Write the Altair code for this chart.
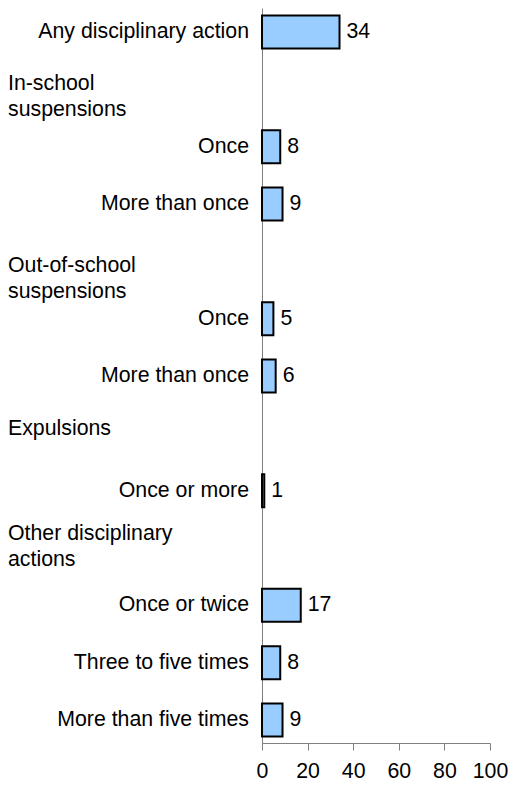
import altair as alt
import pandas as pd

labels = [
    "Any disciplinary action",
    "In-school\nsuspensions",
    "Once",
    "More than once",
    "Out-of-school\nsuspensions",
    "Once",
    "More than once",
    "Expulsions",
    "Once or more",
    "Other disciplinary\nactions",
    "Once or twice",
    "Three to five times",
    "More than five times",
]
values = [34, None, 8, 9, None, 5, 6, None, 1, None, 17, 8, 9]
is_header = [False, True, False, False, True, False, False, True, False, True, False, False, False]
tick_values = [0, 20, 40, 60, 80, 100]

rows = [f"r{i:02d}" for i in range(len(labels))]
df = pd.DataFrame({"row": rows, "label": labels, "value": values, "header": is_header})

FONT = "Liberation Sans"
FS = 21.3
LEFT = 254

y = alt.Y(
    "row:N",
    scale=alt.Scale(domain=rows, paddingInner=0.424, paddingOuter=0.122, align=0.536),
    axis=alt.Axis(labels=False, ticks=False, title=None, grid=False,
                  domainColor="#808080", domainWidth=1),
)
x = alt.X(
    "value:Q",
    scale=alt.Scale(domain=[0, 100]),
    axis=alt.Axis(values=tick_values, grid=False, title=None, labelFontSize=FS,
                  labelFont=FONT, labelColor="black", domainColor="#808080",
                  tickColor="#808080", tickSize=7, labelPadding=10,
                  labelOverlap=False, labelFlush=False),
)

base = alt.Chart(df)
items = base.transform_filter("!datum.header")

bars = items.mark_bar(color="#99CCFF", stroke="black", strokeWidth=2).encode(x=x, y=y)

vals = items.mark_text(align="left", baseline="middle", dx=7, font=FONT, fontSize=FS,
                       color="black").encode(x="value:Q", y=y, text="value:Q")

item_labels = items.mark_text(align="right", baseline="middle", font=FONT, fontSize=FS,
                              color="black").encode(x=alt.value(-13), y=y, text="label:N")

header_layers = []
header_dy = {1: -5, 4: 5, 7: -4, 9: -14}
for idx, dy in header_dy.items():
    header_layers.append(
        base.transform_filter(f"datum.row == '{rows[idx]}'")
        .mark_text(align="left", baseline="middle", font=FONT, fontSize=FS, color="black",
                   lineBreak="\n", lineHeight=26, dy=dy)
        .encode(x=alt.value(-LEFT), y=y, text="label:N")
    )

chart = alt.layer(bars, vals, item_labels, *header_layers).properties(
    width=228,
    height=735,
    padding={"left": LEFT, "top": 0, "right": 18, "bottom": 39},
    autosize=alt.AutoSizeParams(type="none"),
).configure_view(stroke=None)

chart.save("out.html", embed_options={"renderer": "svg", "actions": False})
